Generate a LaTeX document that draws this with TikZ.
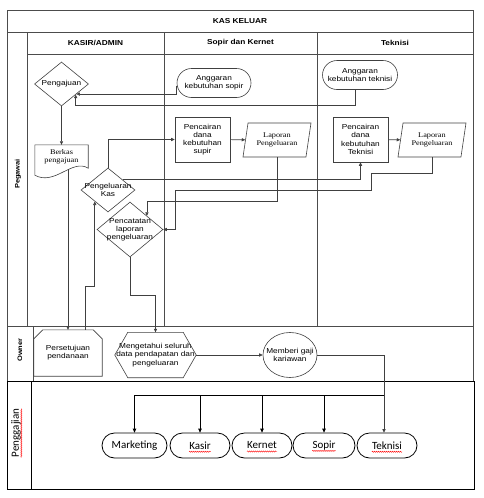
\documentclass[tikz,border=0pt]{standalone}
\usepackage{fontspec}
\setmainfont{Liberation Sans}
\newfontfamily\txtfont[FakeStretch=1.15]{Liberation Sans}
\newfontfamily\docfont[FakeStretch=1.15]{Liberation Serif}
\newfontfamily\gajifont{Carlito}
\usepackage{tikz}
\usetikzlibrary{arrows.meta,positioning,shapes.geometric,shapes.misc,decorations.pathmorphing}

\begin{document}
\begin{tikzpicture}[x=1pt, y=-1pt,
  ln/.style={draw=black!75, line width=0.6pt},
  frm/.style={draw=black!70, line width=0.7pt},
  frmb/.style={draw=black, line width=0.9pt},
  arr/.style={ln, -{Triangle[length=3.5pt, width=3.2pt]}},
  arrb/.style={draw=black, line width=0.8pt, -{Triangle[length=4pt, width=3.6pt]}},
  txt/.style={font=\txtfont\fontsize{7.2}{8.2}\selectfont, align=center, inner sep=1pt},
  doc/.style={font=\docfont\fontsize{7.2}{8.2}\selectfont, align=center, inner sep=1pt},
  hdr/.style={font=\txtfont\bfseries\fontsize{7.2}{8}\selectfont},
  lane/.style={font=\txtfont\bfseries\fontsize{6.5}{7}\selectfont, rotate=90},
  term/.style={ln, rounded rectangle, txt, minimum width=76pt, minimum height=29pt},
  dec/.style={ln, diamond, minimum width=54pt, minimum height=44pt, inner sep=0pt},
  proc/.style={ln, rectangle, txt, minimum width=55pt, minimum height=45pt},
  io/.style={ln, trapezium, trapezium left angle=73, trapezium right angle=107,
             trapezium stretches body, doc, minimum width=68pt, minimum height=34pt},
  pay/.style={draw=black, line width=0.8pt, rounded rectangle, inner sep=0pt, minimum height=25pt},
  paytxt/.style={font=\gajifont\fontsize{11}{13}\selectfont, inner sep=0pt},
  wavy/.style={draw=red, line width=0.4pt, decorate,
               decoration={snake, amplitude=0.6pt, segment length=2pt}}
]
\useasboundingbox (0,0) rectangle (483,498);

% swimlane frame
\draw[frm] (7,10) rectangle (473,381);
\draw[frm] (7,32) -- (473,32);
\draw[frm] (27,54) -- (473,54);
\draw[frm] (27,32) -- (27,326);
\draw[frm] (164,32) -- (164,326);
\draw[frm] (317,32) -- (317,326);
\draw[frm] (7,326) -- (473,326);
\draw[frm] (33,326) -- (33,381);
\draw[frmb] (7,381) rectangle (474,489);
\draw[frmb] (31,381) -- (31,489);

\node[hdr] (title) at (240,21) {KAS KELUAR};
\node[hdr] (hKasir) at (95.5,43) {KASIR/ADMIN};
\node[hdr] (hSopir) at (240.5,43) {Sopir dan Kernet};
\node[hdr] (hTek) at (395,43) {Teknisi};
\node[lane] (lPeg) at (18,174) {Pegawai};
\node[lane] (lOwn) at (20,350) {Owner};
\node[paytxt, rotate=90] (lGaji) at (16,433) {Penggajian};
\draw[wavy] ([xshift=2.5pt]lGaji.base west) -- ([xshift=2.5pt]lGaji.base east);

% Pegawai lane
\node[dec, label={[txt]center:Pengajuan}] (peng) at (61.5,84) {};
\node[term] (anggS) at (214,83) {Anggaran\\kebutuhan sopir};
\node[term, minimum width=77pt] (anggT) at (360,75) {Anggaran\\kebutuhan teknisi};
\node[doc, minimum width=53pt, minimum height=24pt] (berkas) at (61.5,157) {Berkas\\pengajuan};
\draw[ln] (berkas.north west) -- (berkas.north east) -- ([yshift=1pt]berkas.south east)
  .. controls +(-16,-10) and +(20,11) .. ([yshift=-6pt]berkas.south west) -- cycle;
\node[dec, label={[txt]center:Pengeluaran\\Kas}] (kas) at (108,190) {};
\node[dec, minimum width=66pt, minimum height=55pt,
      label={[txt]center:Pencatatan\\laporan\\pengeluaran}] (catat) at (130,229.5) {};
\node[proc] (cairS) at (202.5,139.5) {Pencairan\\dana\\kebutuhan\\supir};
\node[io] (lapS) at (277,140) {Laporan\\Pengeluaran};
\node[proc] (cairT) at (360.5,139.5) {Pencairan\\dana\\kebutuhan\\Teknisi};
\node[io] (lapT) at (432,140) {Laporan\\Pengeluaran};

% Owner lane
\node[txt, minimum width=68pt, minimum height=46pt] (setuju) at (68,353) {Persetujuan\\pendanaan};
\draw[ln] ([yshift=-9pt]setuju.north west) -- ([xshift=9pt]setuju.north west)
  -- ([xshift=-9pt]setuju.north east) -- ([yshift=-9pt]setuju.north east)
  -- (setuju.south east) -- (setuju.south west) -- cycle;
\node[txt, minimum width=81pt, minimum height=45pt] (tahu) at (155.5,355) {Mengetahui seluruh\\data pendapatan dan\\pengeluaran};
\draw[ln] (tahu.west) -- ([xshift=13pt]tahu.north west) -- ([xshift=-13pt]tahu.north east)
  -- (tahu.east) -- ([xshift=-13pt]tahu.south east) -- ([xshift=13pt]tahu.south west) -- cycle;
\node[ln, ellipse, minimum width=54pt, minimum height=45pt, inner sep=0pt,
      label={[txt]center:Memberi gaji\\kariawan}] (gaji) at (290,355) {};

% Penggajian lane
\node[pay, minimum width=65pt, label={[paytxt, name=mktT]center:Marketing}] (mkt) at (134.5,445.5) {};
\node[pay, minimum width=60pt, label={[paytxt, name=ksrT]center:Kasir}] (ksr) at (200,445.5) {};
\node[pay, minimum width=60pt, label={[paytxt, name=kntT]center:Kernet}] (knt) at (262,445.5) {};
\node[pay, minimum width=62pt, label={[paytxt, name=sprT]center:Sopir}] (spr) at (324,445.5) {};
\node[pay, minimum width=60pt, label={[paytxt, name=tekT]center:Teknisi}] (tek) at (387,445.5) {};
\foreach \n in {ksrT,kntT,sprT,tekT}
  \draw[wavy] ([yshift=-2.5pt]\n.base west) -- ([yshift=-2.5pt]\n.base east);

% connectors
\draw[arr] ([yshift=-3pt]anggS.west) |- (peng.-34);
\draw[arr] ([xshift=-5pt]anggT.south) |- ([yshift=-11pt]peng.-37) -- (peng.-37);
\draw[arr] (peng.south) -- (berkas.north);
\draw[arr] (setuju.north |- berkas.south) -- (setuju.north);
\draw[arr] ([xshift=17pt]setuju.north) -- ++(0,-44) -| (kas.221);
\draw[arr] (kas.north) |- (cairS.west);
\draw[arr] (kas.35) -| (cairT.south);
\draw[arr] (cairS) -- (lapS);
\draw[arr] (cairT) -- (lapT);
\draw[arr] (lapS.south) -- (lapS.south |- catat.north) -| (catat.39);
\draw[arr] (lapT.south) -- ++(0,16) -- ++(-61,0) -- ++(0,17) -| ([xshift=12pt]catat.east) -- (catat.east);
\draw[arr] (catat.south) -- ++(0,38) -| (tahu.north);
\draw[arr] (tahu) -- (gaji);
\coordinate (tekIn) at ([xshift=-3pt]tek.north);
\coordinate (bus) at (0,395);
\draw[arr, line width=0.8pt] (gaji.east) -| (tekIn);
\draw[draw=black, line width=0.8pt] (mkt.north |- bus) -- (tekIn |- bus);
\foreach \n in {mkt,ksr,knt,spr}
  \draw[arrb] (\n.north |- bus) -- (\n.north);
\end{tikzpicture}
\end{document}
